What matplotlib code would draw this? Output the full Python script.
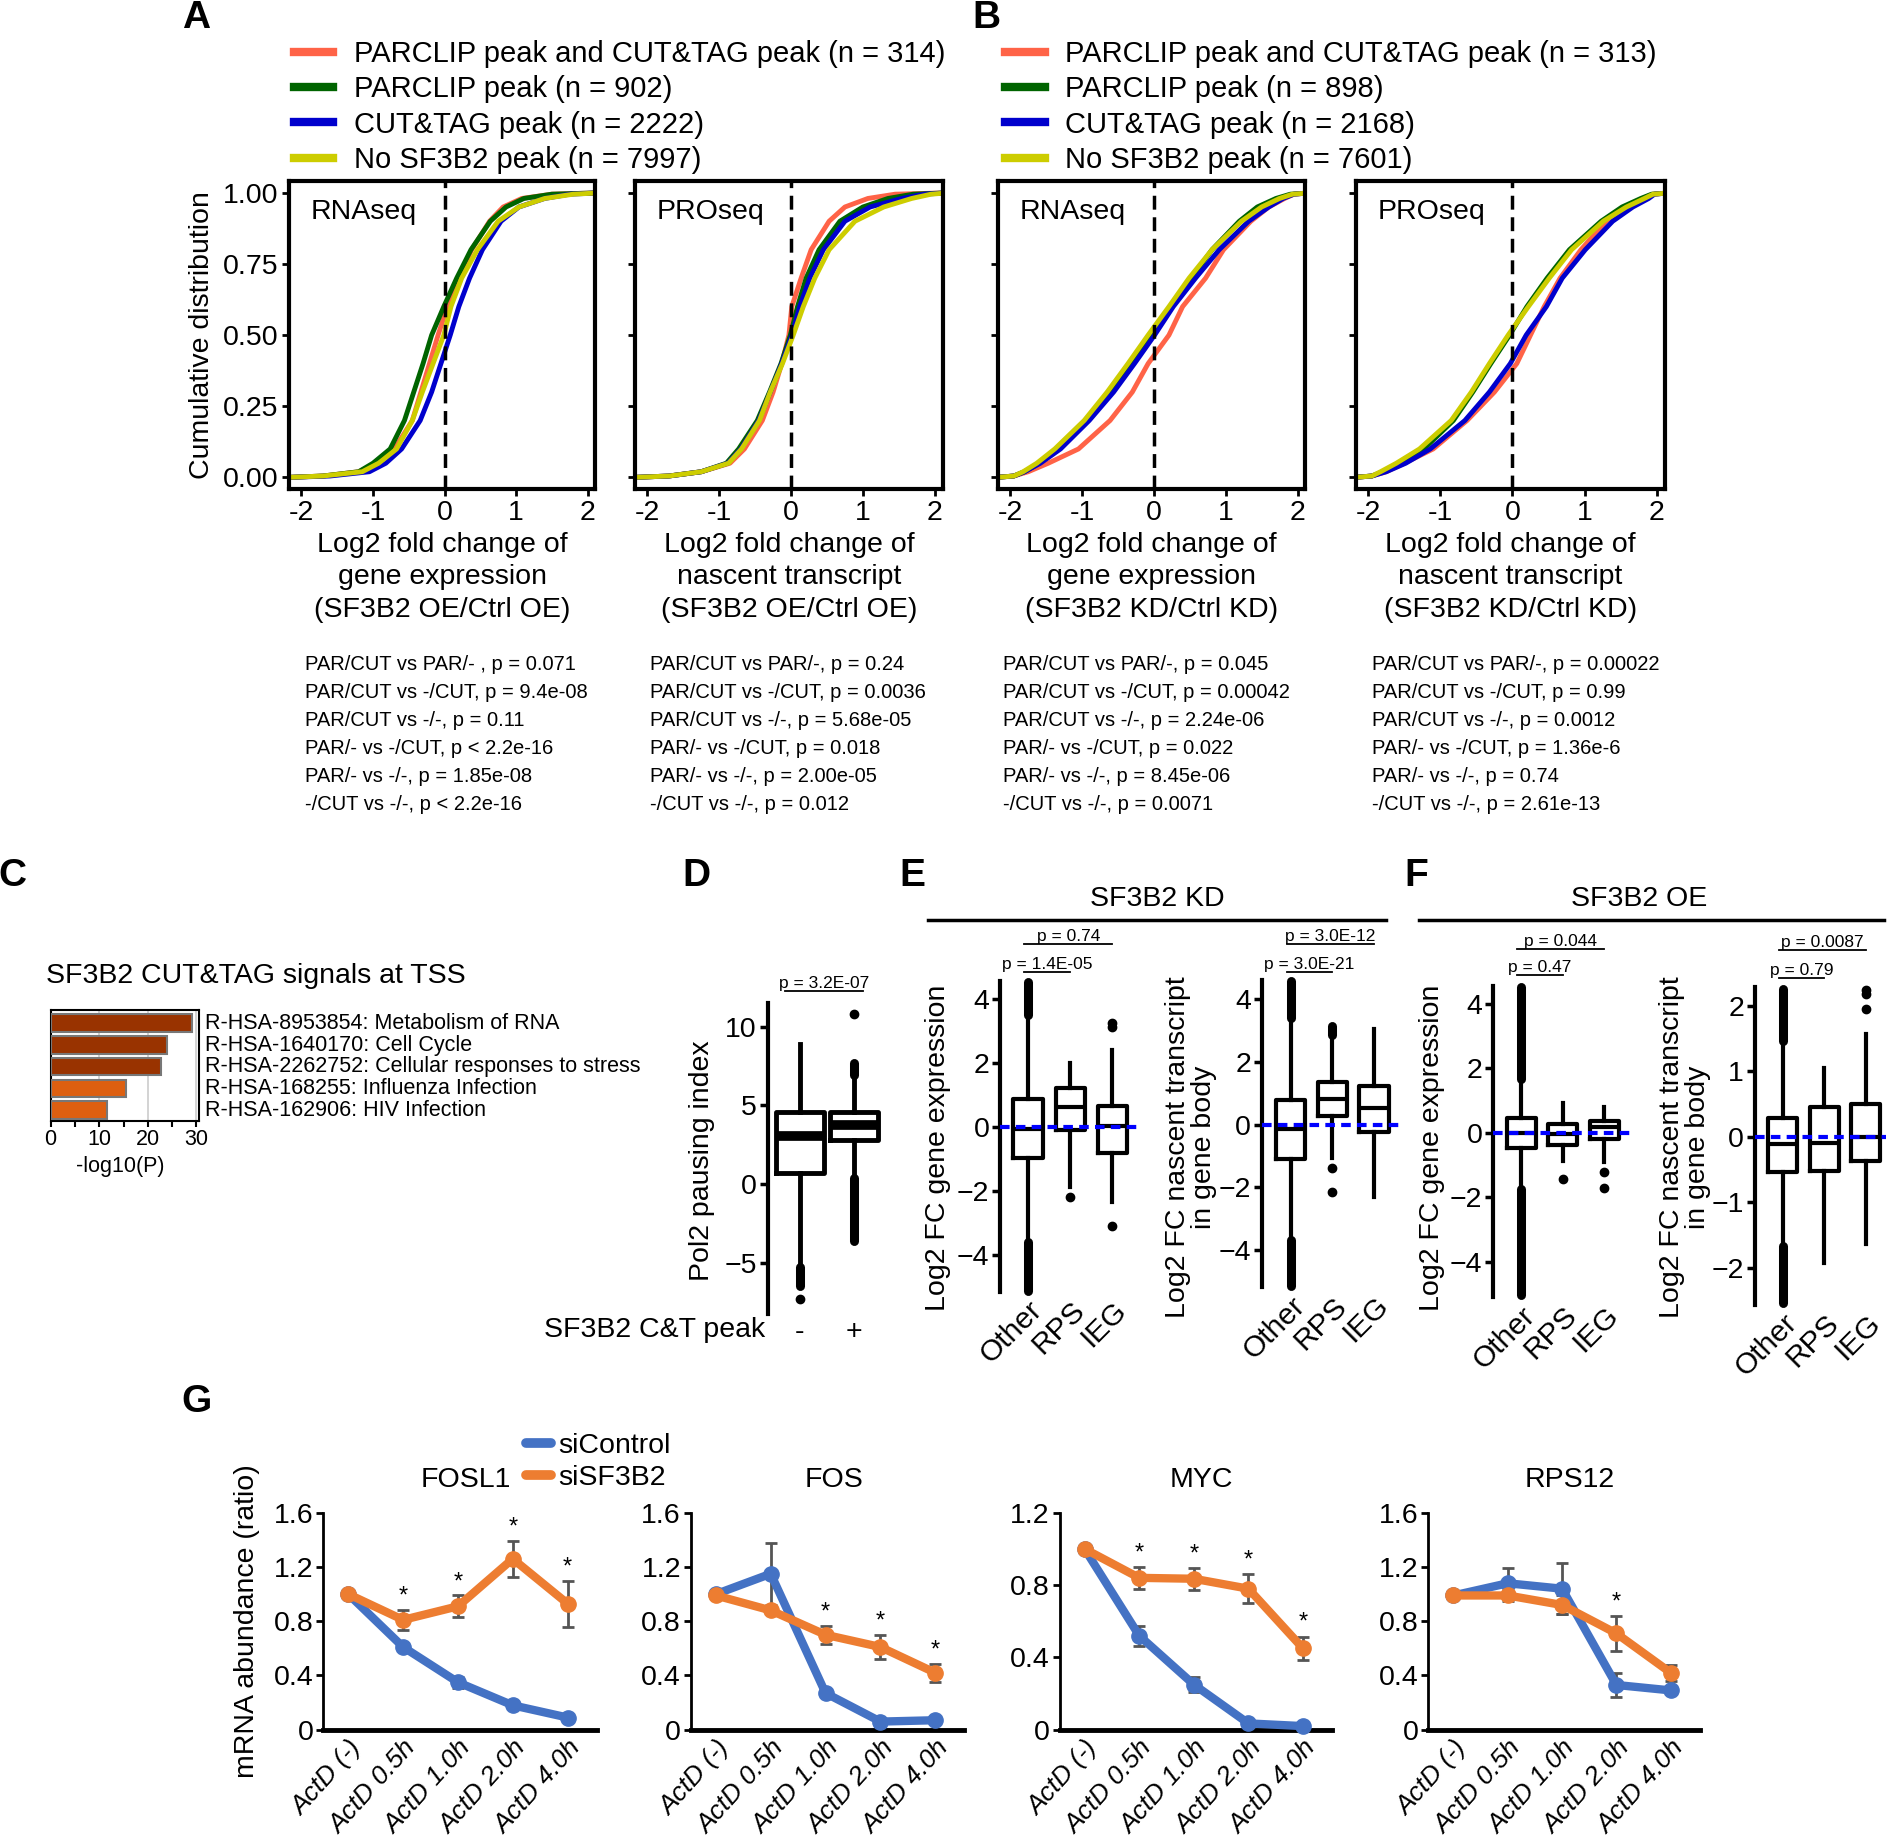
import numpy as np
import matplotlib
matplotlib.use('Agg')
import matplotlib.pyplot as plt
from matplotlib.lines import Line2D
from matplotlib import transforms

plt.rcParams['font.family'] = ['Liberation Sans', 'DejaVu Sans']
plt.rcParams['axes.unicode_minus'] = True

# ---------------- data ----------------
# CDF curves: x value reached at each cumulative level
cdf_levels = [0, 0.005, 0.02, 0.05, 0.1, 0.2, 0.3, 0.4, 0.5, 0.6, 0.7, 0.8, 0.9, 0.95, 0.98, 0.995, 1.0]
cdf_groups = ['both', 'par', 'cut', 'none']

oe_rna = {
    'both': [-2.2, -1.7, -1.2, -0.95, -0.7, -0.45, -0.33, -0.21, -0.09, 0.04, 0.2, 0.38, 0.63, 0.82, 1.08, 1.5, 2.2],
    'par':  [-2.2, -1.7, -1.2, -1.0, -0.76, -0.56, -0.43, -0.3, -0.18, -0.01, 0.17, 0.37, 0.64, 0.86, 1.11, 1.5, 2.2],
    'cut':  [-2.2, -1.6, -1.05, -0.82, -0.6, -0.34, -0.18, -0.05, 0.08, 0.2, 0.35, 0.53, 0.79, 1.04, 1.4, 1.75, 2.2],
    'none': [-2.2, -1.7, -1.15, -0.92, -0.67, -0.45, -0.31, -0.16, -0.01, 0.09, 0.24, 0.46, 0.75, 1.04, 1.4, 1.8, 2.2],
}
oe_pro = {
    'both': [-2.2, -1.7, -1.25, -0.85, -0.65, -0.4, -0.25, -0.13, -0.03, 0.01, 0.14, 0.28, 0.53, 0.75, 1.07, 1.45, 2.2],
    'par':  [-2.2, -1.7, -1.25, -0.9, -0.73, -0.47, -0.3, -0.14, -0.01, 0.09, 0.21, 0.39, 0.68, 1.0, 1.35, 1.7, 2.2],
    'cut':  [-2.2, -1.7, -1.25, -0.88, -0.7, -0.45, -0.29, -0.13, 0.01, 0.12, 0.26, 0.45, 0.75, 1.1, 1.54, 1.85, 2.2],
    'none': [-2.2, -1.7, -1.25, -0.87, -0.69, -0.44, -0.29, -0.12, 0.03, 0.17, 0.33, 0.53, 0.89, 1.29, 1.68, 1.95, 2.2],
}
kd_rna = {
    'both': [-2.2, -1.95, -1.75, -1.47, -1.05, -0.61, -0.3, -0.08, 0.21, 0.4, 0.72, 0.97, 1.35, 1.6, 1.82, 1.95, 2.2],
    'par':  [-2.2, -1.95, -1.8, -1.6, -1.33, -0.93, -0.58, -0.3, -0.01, 0.24, 0.52, 0.81, 1.19, 1.44, 1.7, 1.9, 2.2],
    'cut':  [-2.2, -1.95, -1.8, -1.58, -1.3, -0.9, -0.56, -0.27, 0.01, 0.27, 0.58, 0.91, 1.32, 1.6, 1.8, 1.95, 2.2],
    'none': [-2.2, -1.95, -1.82, -1.63, -1.38, -0.97, -0.65, -0.36, -0.08, 0.21, 0.49, 0.81, 1.22, 1.5, 1.75, 1.93, 2.2],
}
kd_pro = {
    'both': [-2.2, -1.95, -1.75, -1.5, -1.1, -0.63, -0.25, 0.06, 0.25, 0.44, 0.66, 0.95, 1.3, 1.58, 1.8, 1.95, 2.2],
    'par':  [-2.2, -1.95, -1.8, -1.58, -1.23, -0.82, -0.55, -0.3, -0.04, 0.2, 0.48, 0.79, 1.23, 1.52, 1.78, 1.93, 2.2],
    'cut':  [-2.2, -1.95, -1.75, -1.48, -1.14, -0.66, -0.32, -0.03, 0.19, 0.47, 0.69, 1.01, 1.39, 1.67, 1.89, 1.97, 2.2],
    'none': [-2.2, -1.95, -1.83, -1.61, -1.29, -0.85, -0.57, -0.32, -0.06, 0.22, 0.51, 0.82, 1.26, 1.58, 1.83, 1.95, 2.2],
}

legend_a = ['PARCLIP peak and CUT&TAG peak (n = 314)', 'PARCLIP peak (n = 902)',
            'CUT&TAG peak (n = 2222)', 'No SF3B2 peak (n = 7997)']
legend_b = ['PARCLIP peak and CUT&TAG peak (n = 313)', 'PARCLIP peak (n = 898)',
            'CUT&TAG peak (n = 2168)', 'No SF3B2 peak (n = 7601)']

pvals_oe_rna = ['PAR/CUT vs PAR/- , p = 0.071', 'PAR/CUT vs -/CUT, p = 9.4e-08', 'PAR/CUT vs -/-, p = 0.11',
                'PAR/- vs -/CUT, p < 2.2e-16', 'PAR/- vs -/-, p = 1.85e-08', '-/CUT vs -/-, p < 2.2e-16']
pvals_oe_pro = ['PAR/CUT vs PAR/-, p = 0.24', 'PAR/CUT vs -/CUT, p = 0.0036', 'PAR/CUT vs -/-, p = 5.68e-05',
                'PAR/- vs -/CUT, p = 0.018', 'PAR/- vs -/-, p = 2.00e-05', '-/CUT vs -/-, p = 0.012']
pvals_kd_rna = ['PAR/CUT vs PAR/-, p = 0.045', 'PAR/CUT vs -/CUT, p = 0.00042', 'PAR/CUT vs -/-, p = 2.24e-06',
                'PAR/- vs -/CUT, p = 0.022', 'PAR/- vs -/-, p = 8.45e-06', '-/CUT vs -/-, p = 0.0071']
pvals_kd_pro = ['PAR/CUT vs PAR/-, p = 0.00022', 'PAR/CUT vs -/CUT, p = 0.99', 'PAR/CUT vs -/-, p = 0.0012',
                'PAR/- vs -/CUT, p = 1.36e-6', 'PAR/- vs -/-, p = 0.74', '-/CUT vs -/-, p = 2.61e-13']

# panel C
c_terms = ['R-HSA-8953854: Metabolism of RNA', 'R-HSA-1640170: Cell Cycle',
           'R-HSA-2262752: Cellular responses to stress', 'R-HSA-168255: Influenza Infection',
           'R-HSA-162906: HIV Infection']
c_values = [29.0, 24.0, 22.8, 15.6, 11.5]

# box plots: (whislo, q1, med, q3, whishi)
d_groups = ['-', '+']
d_stats = [(-5.1, 0.7, 3.09, 4.57, 8.9), (0.43, 2.8, 3.77, 4.57, 6.9)]
d_fliers = [[-7.23], [10.8]]
d_dense = [[(-6.45, -5.2)], [(-3.6, 0.43), (6.9, 7.7)]]

box_groups = ['Other', 'RPS', 'IEG']
kd_rna_stats = [(-3.6, -0.98, -0.05, 0.88, 3.5), (-1.87, -0.1, 0.64, 1.23, 1.99), (-2.34, -0.81, 0.02, 0.66, 2.42)]
kd_rna_fliers = [[], [-2.2], [3.25, 3.13, -3.09]]
kd_rna_dense = [[(3.5, 4.55), (-5.13, -3.6)], [], []]

kd_pro_stats = [(-3.7, -1.09, -0.14, 0.78, 3.4), (-1.06, 0.27, 0.81, 1.37, 2.67), (-2.32, -0.25, 0.54, 1.24, 3.05)]
kd_pro_fliers = [[], [-1.38, -2.14], []]
kd_pro_dense = [[(3.4, 4.58), (-5.15, -3.7)], [(2.85, 3.16)], []]

oe_rna_stats = [(-1.7, -0.47, 0.0, 0.45, 1.6), (-0.88, -0.37, -0.04, 0.27, 0.91), (-0.9, -0.21, 0.19, 0.37, 0.81)]
oe_rna_fliers = [[], [-1.45], [-1.21, -1.71]]
oe_rna_dense = [[(1.65, 4.52), (-5.05, -1.75)], [], []]

oe_pro_stats = [(-1.65, -0.53, -0.11, 0.29, 1.4), (-1.92, -0.52, -0.1, 0.45, 1.05), (-1.63, -0.37, 0.0, 0.5, 1.57)]
oe_pro_fliers = [[], [], [2.24, 2.17, 1.95]]
oe_pro_dense = [[(1.46, 2.26), (-2.53, -1.67)], [], []]

# panel G
g_times = ['ActD (-)', 'ActD 0.5h', 'ActD 1.0h', 'ActD 2.0h', 'ActD 4.0h']
fosl1_ctrl = [1.0, 0.61, 0.35, 0.18, 0.09]
fosl1_ctrl_err = [0, 0.02, 0.04, 0.02, 0.01]
fosl1_kd = [1.0, 0.81, 0.91, 1.26, 0.93]
fosl1_kd_err = [0, 0.075, 0.08, 0.135, 0.17]
fosl1_stars = [1, 2, 3, 4]

fos_ctrl = [1.0, 1.15, 0.27, 0.06, 0.07]
fos_ctrl_err = [0, 0.23, 0.02, 0.01, 0.01]
fos_kd = [0.99, 0.88, 0.70, 0.61, 0.42]
fos_kd_err = [0, 0.02, 0.065, 0.09, 0.065]
fos_stars = [2, 3, 4]

myc_ctrl = [1.0, 0.52, 0.25, 0.035, 0.02]
myc_ctrl_err = [0, 0.055, 0.04, 0.01, 0.01]
myc_kd = [1.0, 0.84, 0.835, 0.78, 0.45]
myc_kd_err = [0, 0.06, 0.06, 0.08, 0.065]
myc_stars = [1, 2, 3, 4]

rps12_ctrl = [0.99, 1.08, 1.04, 0.33, 0.29]
rps12_ctrl_err = [0, 0.11, 0.19, 0.09, 0.02]
rps12_kd = [0.99, 0.99, 0.92, 0.71, 0.42]
rps12_kd_err = [0, 0.04, 0.07, 0.13, 0.06]
rps12_stars = [3]

# ---------------- layout helpers ----------------
W, H = 1568, 1524  # layout measured at this scale

fig = plt.figure(figsize=(18.9, 18.37), dpi=100)


def fy(y):
    return 1 - y / H


def axes_at(x0, y0, x1, y1):
    return fig.add_axes([x0 / W, 1 - y1 / H, (x1 - x0) / W, (y1 - y0) / H])


def ftext(x, y, s, **kw):
    return fig.text(x / W, fy(y), s, **kw)


def hline(x0, x1, y, lw=2.5):
    fig.add_artist(Line2D([x0 / W, x1 / W], [fy(y), fy(y)], transform=fig.transFigure, color='black', lw=lw))


for letter, x, y in [('A', 163, 15), ('B', 818, 15), ('C', 10, 727), ('D', 578, 727),
                     ('E', 757, 727), ('F', 1175, 727), ('G', 163, 1163)]:
    ftext(x, y, letter, fontsize=28, fontweight='bold', ha='center', va='center')

# ---------------- panels A / B ----------------
cdf_colors = ['#FF6347', '#006400', '#0000CD', '#CDCD00']


def cdf_panel(box, curves, tag, show_y):
    ax = axes_at(*box)
    for g, c in zip(cdf_groups, cdf_colors):
        ax.plot(curves[g], cdf_levels, color=c, lw=3.5, clip_on=True)
    ax.axvline(0, color='black', ls=(0, (4, 2.2)), lw=2.5)
    ax.set_xlim(-2.17, 2.11)
    ax.set_ylim(-0.042, 1.042)
    ax.set_xticks([-2, -1, 0, 1, 2])
    ax.set_xticklabels(['-2', '-1', '0', '1', '2'])
    ax.set_yticks([0, 0.25, 0.5, 0.75, 1.0])
    if show_y:
        ax.set_yticklabels(['0.00', '0.25', '0.50', '0.75', '1.00'])
    else:
        ax.set_yticklabels([])
    for s in ax.spines.values():
        s.set_linewidth(3)
    ax.tick_params(length=5, width=2, labelsize=20.5, pad=3)
    ax.text(0.07, 0.9, tag, transform=ax.transAxes, fontsize=20.5, va='center', ha='left')
    return ax


cdf_boxes = [(240, 150, 494, 406), (527, 150, 782, 406), (828, 150, 1083, 406), (1125, 150, 1381, 406)]
cdf_data = [oe_rna, oe_pro, kd_rna, kd_pro]
cdf_tags = ['RNAseq', 'PROseq', 'RNAseq', 'PROseq']
cdf_xlabels = ['Log2 fold change of\ngene expression\n(SF3B2 OE/Ctrl OE)',
               'Log2 fold change of\nnascent transcript\n(SF3B2 OE/Ctrl OE)',
               'Log2 fold change of\ngene expression\n(SF3B2 KD/Ctrl KD)',
               'Log2 fold change of\nnascent transcript\n(SF3B2 KD/Ctrl KD)']
cdf_pvals = [pvals_oe_rna, pvals_oe_pro, pvals_kd_rna, pvals_kd_pro]
pval_x = [253, 539, 832, 1138]

for i, (bx, dat, tag) in enumerate(zip(cdf_boxes, cdf_data, cdf_tags)):
    cdf_panel(bx, dat, tag, i == 0)
    ftext((bx[0] + bx[2]) / 2, 441, cdf_xlabels[i], fontsize=20.5, ha='center', va='top', linespacing=1.33)
    ftext(pval_x[i], 543, '\n'.join(cdf_pvals[i]), fontsize=14.5, ha='left', va='top', linespacing=1.6)

ftext(168, 278, 'Cumulative distribution', fontsize=20.5, rotation=90, ha='center', va='center')

for labels, x in [(legend_a, 244), (legend_b, 834)]:
    handles = [Line2D([], [], color=c, lw=6) for c in cdf_colors]
    fig.legend(handles, labels, loc='upper left', bbox_to_anchor=(x / W, fy(33)), frameon=False,
               fontsize=21, handlelength=1.35, handletextpad=0.7, labelspacing=0.255,
               borderpad=0, borderaxespad=0)

# ---------------- panel C ----------------
axc = axes_at(42, 838, 165, 930)
c_colors = ['#993300', '#993300', '#993300', '#DD5F10', '#DD5F10']
ypos = np.arange(len(c_values))
axc.barh(ypos, c_values, height=0.8, color=c_colors, edgecolor='#777777', lw=1.5, zorder=3)
axc.set_xlim(0, 30.5)
axc.set_ylim(4.5, -0.6)
axc.set_yticks([])
axc.set_xticks([0, 10, 20, 30])
axc.set_xticks([5, 15, 25], minor=True)
axc.grid(axis='x', color='#cccccc', lw=1.2, zorder=0)
for s in axc.spines.values():
    s.set_linewidth(1.5)
axc.tick_params(axis='x', which='both', length=4, width=1.5, labelsize=15.5, pad=2)
for yy, term in zip([849, 867, 885, 903, 921], c_terms):
    ftext(170, yy, term, fontsize=15.5, ha='left', va='center')
ftext(38, 810, 'SF3B2 CUT&TAG signals at TSS', fontsize=20.5, ha='left', va='center')
ftext(100, 968, '-log10(P)', fontsize=15.5, ha='center', va='center')


# ---------------- box plot helpers ----------------
def box_panel(box, xlim, ylim, yticks, stats, fliers, dense, labels, lw=3, med_lw=3, width=0.7):
    ax = axes_at(*box)
    pos = np.arange(1, len(stats) + 1)
    bstats = [dict(whislo=s[0], q1=s[1], med=s[2], q3=s[3], whishi=s[4], fliers=[]) for s in stats]
    ax.bxp(bstats, positions=pos, widths=width, showcaps=False, showfliers=False,
           boxprops=dict(color='black', lw=lw), whiskerprops=dict(color='black', lw=lw),
           medianprops=dict(color='black', lw=med_lw, solid_capstyle='butt'))
    for p, fl, dn in zip(pos, fliers, dense):
        if fl:
            ax.plot([p] * len(fl), fl, 'o', color='black', ms=6, clip_on=False)
        for lo, hi in dn:
            ax.plot([p, p], [lo, hi], color='black', lw=6.5, solid_capstyle='round', clip_on=False)
    ax.set_xlim(*xlim)
    ax.set_ylim(*ylim)
    for s in ['top', 'right', 'bottom']:
        ax.spines[s].set_visible(False)
    ax.spines['left'].set_linewidth(3)
    ax.set_yticks(yticks)
    ax.tick_params(axis='y', length=6, width=2.5, labelsize=20.5, pad=2)
    ax.tick_params(axis='x', length=0, labelsize=20.5)
    ax.set_xticks(pos)
    ax.set_xticklabels(labels)
    return ax


def p_bracket(ax, x0, x1, y, label):
    tr = transforms.blended_transform_factory(ax.transData, fig.transFigure)
    ax.plot([x0, x1], [fy(y), fy(y)], transform=tr, color='black', lw=1.3, clip_on=False)
    ax.text((x0 + x1) / 2, fy(y - 2.5), label, transform=tr, ha='center', va='baseline', fontsize=12.5)


# ---------------- panel D ----------------
axd = box_panel((637, 832, 732, 1090), (0.41, 2.52), (-8.2, 11.5), [-5, 0, 5, 10],
                d_stats, d_fliers, d_dense, d_groups, lw=3.5, med_lw=7, width=0.88)
axd.tick_params(axis='x', pad=4)
p_bracket(axd, 0.73, 2.16, 822, 'p = 3.2E-07')
ftext(582, 963, 'Pol2 pausing index', fontsize=20.5, rotation=90, ha='center', va='center')
ftext(635, 1103, 'SF3B2 C&T peak', fontsize=20.5, ha='right', va='center')


# ---------------- panels E / F ----------------
def ef_panel(box, xlim, ylim, yticks, stats, fliers, dense, pv_top, pv_bot, y_top, y_bot):
    ax = box_panel(box, xlim, ylim, yticks, stats, fliers, dense, box_groups)
    ax.axhline(0, color='#0000FF', ls=(0, (2.3, 1.5)), lw=3, zorder=3)
    for lbl in ax.get_xticklabels():
        lbl.set_rotation(45)
        lbl.set_ha('right')
        lbl.set_va('top')
        lbl.set_rotation_mode('anchor')
        lbl.set_fontsize(21.5)
    ax.tick_params(axis='x', pad=3)
    p_bracket(ax, 0.9, 3.0, y_top, pv_top)
    p_bracket(ax, 0.9, 2.0, y_bot, pv_bot)
    return ax


ef_panel((830, 813.6, 945, 1071.7), (0.343, 3.63), (-5.16, 4.58), [-4, -2, 0, 2, 4],
         kd_rna_stats, kd_rna_fliers, kd_rna_dense, 'p = 0.74', 'p = 1.4E-05', 783, 806)
ef_panel((1047, 813, 1162, 1068), (0.304, 3.64), (-5.2, 4.62), [-4, -2, 0, 2, 4],
         kd_pro_stats, kd_pro_fliers, kd_pro_dense, 'p = 3.0E-12', 'p = 3.0E-21', 783, 806)
ef_panel((1239, 818, 1352, 1076), (0.333, 3.61), (-5.1, 4.55), [-4, -2, 0, 2, 4],
         oe_rna_stats, oe_rna_fliers, oe_rna_dense, 'p = 0.044', 'p = 0.47', 787, 809)
ef_panel((1456, 819, 1565, 1082.5), (0.333, 3.5), (-2.56, 2.28), [-2, -1, 0, 1, 2],
         oe_pro_stats, oe_pro_fliers, oe_pro_dense, 'p = 0.0087', 'p = 0.79', 788, 811)

ftext(778, 952, 'Log2 FC gene expression', fontsize=20.5, rotation=90, ha='center', va='center')
ftext(988, 952, 'Log2 FC nascent transcript\nin gene body', fontsize=20.5, rotation=90,
      ha='center', va='center', linespacing=1.0)
ftext(1188, 952, 'Log2 FC gene expression', fontsize=20.5, rotation=90, ha='center', va='center')
ftext(1398, 952, 'Log2 FC nascent transcript\nin gene body', fontsize=20.5, rotation=90,
      ha='center', va='center', linespacing=1.0)

ftext(960, 746, 'SF3B2 KD', fontsize=20.5, ha='center', va='center')
hline(770, 1150, 763)
ftext(1360, 746, 'SF3B2 OE', fontsize=20.5, ha='center', va='center')
hline(1177, 1563, 763)

# ---------------- panel G ----------------
blue = '#4472C4'
orange = '#ED7D31'


def g_panel(box, title, ctrl, ctrl_err, kd, kd_err, stars, ymax, yticks, yticklabels):
    ax = axes_at(*box)
    x = np.arange(len(g_times))
    ax.errorbar(x, ctrl, yerr=ctrl_err, fmt='none', ecolor='#555555', elinewidth=2, capsize=4,
                capthick=2, zorder=2, clip_on=False)
    ax.errorbar(x, kd, yerr=kd_err, fmt='none', ecolor='#555555', elinewidth=2, capsize=4,
                capthick=2, zorder=2, clip_on=False)
    ax.plot(x, ctrl, '-o', color=blue, lw=6, ms=11, zorder=3, clip_on=False)
    ax.plot(x, kd, '-o', color=orange, lw=6, ms=11, zorder=4, clip_on=False)
    for i in stars:
        ax.text(i, kd[i] + kd_err[i] + 0.015, '*', ha='center', va='bottom', fontsize=17)
    ax.set_xlim(-0.46, 4.53)
    ax.set_ylim(0, ymax)
    for s in ['top', 'right']:
        ax.spines[s].set_visible(False)
    ax.spines['left'].set_linewidth(2)
    ax.spines['bottom'].set_linewidth(3.5)
    ax.set_yticks(yticks)
    ax.set_yticklabels(yticklabels)
    ax.set_xticks(x)
    ax.set_xticklabels(g_times, rotation=48, ha='right', va='top', rotation_mode='anchor',
                       fontstyle='italic', fontsize=19)
    ax.tick_params(axis='y', length=5, width=2, labelsize=20.5, pad=2)
    ax.tick_params(axis='x', length=0, pad=5)
    ftext((box[0] + box[2]) / 2 + 5, 1228, title, fontsize=20.5, ha='center', va='center')
    return ax


t16 = [0, 0.4, 0.8, 1.2, 1.6]
l16 = ['0', '0.4', '0.8', '1.2', '1.6']
g_panel((268, 1255, 495, 1435), 'FOSL1', fosl1_ctrl, fosl1_ctrl_err, fosl1_kd, fosl1_kd_err,
        fosl1_stars, 1.6, t16, l16)
g_panel((573, 1255, 800, 1435), 'FOS', fos_ctrl, fos_ctrl_err, fos_kd, fos_kd_err,
        fos_stars, 1.6, t16, l16)
g_panel((879, 1255, 1105, 1435), 'MYC', myc_ctrl, myc_ctrl_err, myc_kd, myc_kd_err,
        myc_stars, 1.2, t16[:4], l16[:4])
g_panel((1185, 1255, 1410, 1435), 'RPS12', rps12_ctrl, rps12_ctrl_err, rps12_kd, rps12_kd_err,
        rps12_stars, 1.6, t16, l16)

ftext(205, 1345, 'mRNA abundance (ratio)', fontsize=20.5, rotation=90, ha='center', va='center')
g_handles = [Line2D([], [], color=blue, lw=7, solid_capstyle='round'),
             Line2D([], [], color=orange, lw=7, solid_capstyle='round')]
fig.legend(g_handles, ['siControl', 'siSF3B2'], loc='upper left', bbox_to_anchor=(436 / W, fy(1189)),
           frameon=False, fontsize=20.5, handlelength=0.9, handletextpad=0.25, labelspacing=0.2,
           borderpad=0, borderaxespad=0)

fig.savefig('out.png', dpi=100)
